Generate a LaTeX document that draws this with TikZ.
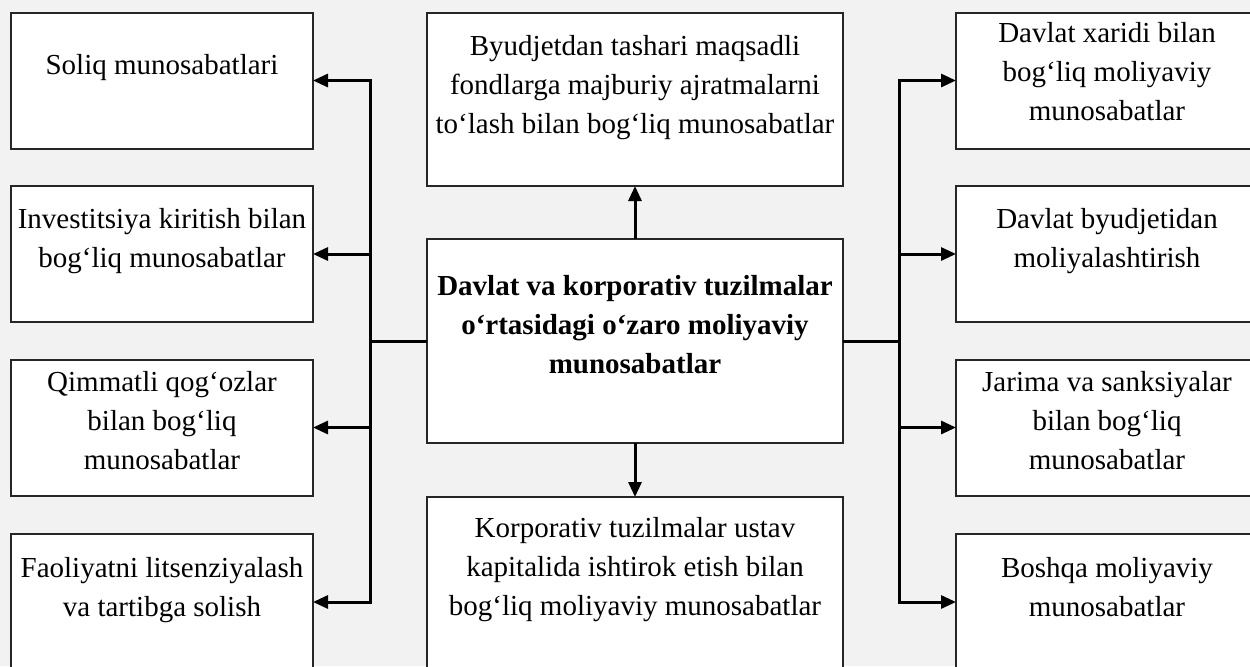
\documentclass[tikz,border=0pt]{standalone}
\usepackage{fontspec}
\setmainfont{Liberation Serif}
\usetikzlibrary{arrows.meta}
\begin{document}
\begin{tikzpicture}[x=0.5pt,y=-0.5pt,
  box/.style={draw=black!85, fill=white, line width=1pt, inner sep=0pt, outer sep=0pt},
  sidebox/.style={box, minimum width=151pt, minimum height=68pt},
  midbox/.style={box, minimum width=208pt},
  txt/.style={anchor=north, inner sep=0pt, align=center,
    font=\fontsize{14.5pt}{19.5pt}\selectfont},
  arr/.style={line width=1.5pt, -{Triangle[length=7.5pt,width=6.5pt]}},
  bus/.style={line width=1.5pt}]
\useasboundingbox (0,0) rectangle (1250,666);
\clip (0,0) rectangle (1250,666);
\fill[black!5] (0,0) rectangle (1250,666);

% left column
\node[sidebox] (l1) at (162,80.5) {};
\node[sidebox] (l2) at (162,254) {};
\node[sidebox] (l3) at (162,427.5) {};
\node[sidebox] (l4) at (162,602) {};
% right column
\node[sidebox] (r1) at (1107,80.5) {};
\node[sidebox] (r2) at (1107,254) {};
\node[sidebox] (r3) at (1107,427.5) {};
\node[sidebox] (r4) at (1107,602) {};
% middle column
\node[midbox, minimum height=86.5pt] (t) at (635,99.5) {};
\node[midbox, minimum height=102pt] (c) at (635,341) {};
\node[midbox, minimum height=86.5pt] (b) at (635,583.5) {};

% labels
\node[txt] (l1t) at ([yshift=-17.35pt]l1.north) {\strut Soliq munosabatlari};
\node[txt] (l2t) at ([yshift=-7.35pt]l2.north) {\strut Investitsiya kiritish bilan\\bog‘liq munosabatlar};
\node[txt] (l3t) at ([yshift=-2.35pt]l3.north) {\strut Qimmatli qog‘ozlar\\bilan bog‘liq\\munosabatlar};
\node[txt] (l4t) at ([yshift=-7.85pt]l4.north) {\strut Faoliyatni litsenziyalash\\va tartibga solish};
\node[txt] (r1t) at ([yshift=-1.35pt]r1.north) {\strut Davlat xaridi bilan\\bog‘liq moliyaviy\\munosabatlar};
\node[txt] (r2t) at ([yshift=-7.35pt]r2.north) {\strut Davlat byudjetidan\\moliyalashtirish};
\node[txt] (r3t) at ([yshift=-2.35pt]r3.north) {\strut Jarima va sanksiyalar\\bilan bog‘liq\\munosabatlar};
\node[txt] (r4t) at ([yshift=-7.85pt]r4.north) {\strut Boshqa moliyaviy\\munosabatlar};
\node[txt] (tt) at ([yshift=-7.35pt]t.north) {\strut Byudjetdan tashari maqsadli\\fondlarga majburiy ajratmalarni\\to‘lash bilan bog‘liq munosabatlar};
\node[txt, font=\fontsize{14.5pt}{19.5pt}\selectfont\bfseries] (ct) at ([yshift=-14.35pt]c.north) {\strut Davlat va korporativ tuzilmalar\\o‘rtasidagi o‘zaro moliyaviy\\munosabatlar};
\node[txt] (bt) at ([yshift=-6.35pt]b.north) {\strut Korporativ tuzilmalar ustav\\kapitalida ishtirok etish bilan\\bog‘liq moliyaviy munosabatlar};

% connectors
\coordinate (lb) at (370,341);
\coordinate (rb) at (899,341);
\draw[bus] (c.west) -- (lb);
\draw[bus] (c.east) -- (rb);
\draw[arr] (lb) |- (l1.east);
\draw[arr] (lb) |- (l2.east);
\draw[arr] (lb) |- (l3.east);
\draw[arr] (lb) |- (l4.east);
\draw[arr] (rb) |- (r1.west);
\draw[arr] (rb) |- (r2.west);
\draw[arr] (rb) |- (r3.west);
\draw[arr] (rb) |- (r4.west);
\draw[arr] (c.north) -- (t.south);
\draw[arr] (c.south) -- (b.north);
\end{tikzpicture}
\end{document}
